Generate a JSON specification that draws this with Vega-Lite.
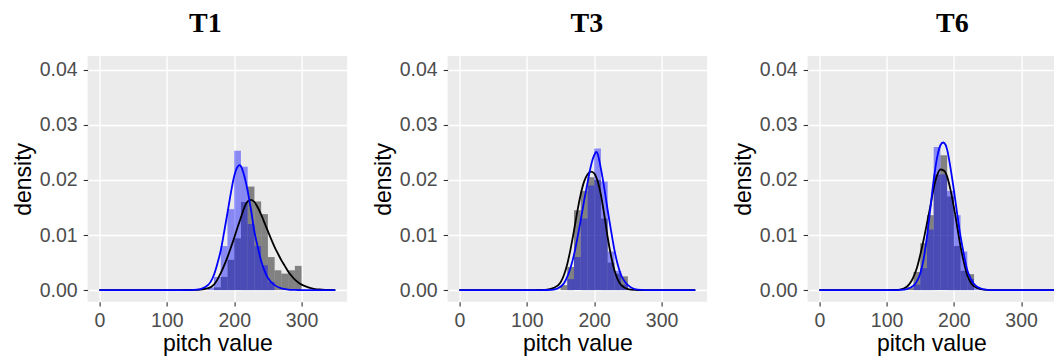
{
  "$schema": "https://vega.github.io/schema/vega-lite/v6.json",
  "padding": {"left": 11.6, "top": 10, "right": 0, "bottom": 0},
  "background": "white",
  "datasets": {
    "hist": [
      {"panel": "T1", "series": "gray", "bin_start": 170, "bin_end": 180, "density": 0.0005},
      {"panel": "T1", "series": "gray", "bin_start": 180, "bin_end": 190, "density": 0.0024},
      {"panel": "T1", "series": "gray", "bin_start": 190, "bin_end": 200, "density": 0.0055},
      {"panel": "T1", "series": "gray", "bin_start": 200, "bin_end": 210, "density": 0.0094},
      {"panel": "T1", "series": "gray", "bin_start": 210, "bin_end": 220, "density": 0.016},
      {"panel": "T1", "series": "gray", "bin_start": 220, "bin_end": 230, "density": 0.0188},
      {"panel": "T1", "series": "gray", "bin_start": 230, "bin_end": 240, "density": 0.0161},
      {"panel": "T1", "series": "gray", "bin_start": 240, "bin_end": 250, "density": 0.0138},
      {"panel": "T1", "series": "gray", "bin_start": 250, "bin_end": 260, "density": 0.006},
      {"panel": "T1", "series": "gray", "bin_start": 260, "bin_end": 270, "density": 0.0036},
      {"panel": "T1", "series": "gray", "bin_start": 270, "bin_end": 280, "density": 0.003},
      {"panel": "T1", "series": "gray", "bin_start": 280, "bin_end": 290, "density": 0.0036},
      {"panel": "T1", "series": "gray", "bin_start": 290, "bin_end": 300, "density": 0.0044},
      {"panel": "T1", "series": "blue", "bin_start": 160, "bin_end": 170, "density": 0.0005},
      {"panel": "T1", "series": "blue", "bin_start": 170, "bin_end": 180, "density": 0.0024},
      {"panel": "T1", "series": "blue", "bin_start": 180, "bin_end": 190, "density": 0.008},
      {"panel": "T1", "series": "blue", "bin_start": 190, "bin_end": 200, "density": 0.0147},
      {"panel": "T1", "series": "blue", "bin_start": 200, "bin_end": 210, "density": 0.0253},
      {"panel": "T1", "series": "blue", "bin_start": 210, "bin_end": 220, "density": 0.0224},
      {"panel": "T1", "series": "blue", "bin_start": 220, "bin_end": 230, "density": 0.012},
      {"panel": "T1", "series": "blue", "bin_start": 230, "bin_end": 240, "density": 0.008},
      {"panel": "T1", "series": "blue", "bin_start": 240, "bin_end": 250, "density": 0.0045},
      {"panel": "T1", "series": "blue", "bin_start": 250, "bin_end": 260, "density": 0.0015},
      {"panel": "T3", "series": "gray", "bin_start": 150, "bin_end": 160, "density": 0.0009},
      {"panel": "T3", "series": "gray", "bin_start": 160, "bin_end": 170, "density": 0.0042},
      {"panel": "T3", "series": "gray", "bin_start": 170, "bin_end": 180, "density": 0.0145},
      {"panel": "T3", "series": "gray", "bin_start": 180, "bin_end": 190, "density": 0.018},
      {"panel": "T3", "series": "gray", "bin_start": 190, "bin_end": 200, "density": 0.0205},
      {"panel": "T3", "series": "gray", "bin_start": 200, "bin_end": 210, "density": 0.02},
      {"panel": "T3", "series": "gray", "bin_start": 210, "bin_end": 220, "density": 0.013},
      {"panel": "T3", "series": "gray", "bin_start": 220, "bin_end": 230, "density": 0.005},
      {"panel": "T3", "series": "gray", "bin_start": 230, "bin_end": 240, "density": 0.003},
      {"panel": "T3", "series": "gray", "bin_start": 240, "bin_end": 250, "density": 0.0025},
      {"panel": "T3", "series": "blue", "bin_start": 160, "bin_end": 170, "density": 0.002},
      {"panel": "T3", "series": "blue", "bin_start": 170, "bin_end": 180, "density": 0.006},
      {"panel": "T3", "series": "blue", "bin_start": 180, "bin_end": 190, "density": 0.013},
      {"panel": "T3", "series": "blue", "bin_start": 190, "bin_end": 200, "density": 0.019},
      {"panel": "T3", "series": "blue", "bin_start": 200, "bin_end": 210, "density": 0.0257},
      {"panel": "T3", "series": "blue", "bin_start": 210, "bin_end": 220, "density": 0.0197},
      {"panel": "T3", "series": "blue", "bin_start": 220, "bin_end": 230, "density": 0.007},
      {"panel": "T3", "series": "blue", "bin_start": 230, "bin_end": 240, "density": 0.0035},
      {"panel": "T3", "series": "blue", "bin_start": 240, "bin_end": 250, "density": 0.001},
      {"panel": "T6", "series": "gray", "bin_start": 130, "bin_end": 140, "density": 0.0005},
      {"panel": "T6", "series": "gray", "bin_start": 140, "bin_end": 150, "density": 0.0033},
      {"panel": "T6", "series": "gray", "bin_start": 150, "bin_end": 160, "density": 0.0085},
      {"panel": "T6", "series": "gray", "bin_start": 160, "bin_end": 170, "density": 0.0136},
      {"panel": "T6", "series": "gray", "bin_start": 170, "bin_end": 180, "density": 0.021},
      {"panel": "T6", "series": "gray", "bin_start": 180, "bin_end": 190, "density": 0.0245},
      {"panel": "T6", "series": "gray", "bin_start": 190, "bin_end": 200, "density": 0.017},
      {"panel": "T6", "series": "gray", "bin_start": 200, "bin_end": 210, "density": 0.008},
      {"panel": "T6", "series": "gray", "bin_start": 210, "bin_end": 220, "density": 0.0035},
      {"panel": "T6", "series": "gray", "bin_start": 220, "bin_end": 230, "density": 0.0029},
      {"panel": "T6", "series": "blue", "bin_start": 140, "bin_end": 150, "density": 0.001},
      {"panel": "T6", "series": "blue", "bin_start": 150, "bin_end": 160, "density": 0.004},
      {"panel": "T6", "series": "blue", "bin_start": 160, "bin_end": 170, "density": 0.011},
      {"panel": "T6", "series": "blue", "bin_start": 170, "bin_end": 180, "density": 0.026},
      {"panel": "T6", "series": "blue", "bin_start": 180, "bin_end": 190, "density": 0.021},
      {"panel": "T6", "series": "blue", "bin_start": 190, "bin_end": 200, "density": 0.018},
      {"panel": "T6", "series": "blue", "bin_start": 200, "bin_end": 210, "density": 0.0136},
      {"panel": "T6", "series": "blue", "bin_start": 210, "bin_end": 220, "density": 0.007},
      {"panel": "T6", "series": "blue", "bin_start": 220, "bin_end": 230, "density": 0.002},
      {"panel": "T6", "series": "blue", "bin_start": 230, "bin_end": 240, "density": 0.0005}
    ],
    "curve": [
      {"panel": "T1", "series": "black", "pitch": 0, "density": 0},
      {"panel": "T1", "series": "black", "pitch": 100, "density": 0},
      {"panel": "T1", "series": "black", "pitch": 130, "density": 0.00002},
      {"panel": "T1", "series": "black", "pitch": 140, "density": 0.00005},
      {"panel": "T1", "series": "black", "pitch": 150, "density": 0.0001},
      {"panel": "T1", "series": "black", "pitch": 160, "density": 0.0003},
      {"panel": "T1", "series": "black", "pitch": 170, "density": 0.001},
      {"panel": "T1", "series": "black", "pitch": 180, "density": 0.0031},
      {"panel": "T1", "series": "black", "pitch": 190, "density": 0.006},
      {"panel": "T1", "series": "black", "pitch": 200, "density": 0.0095},
      {"panel": "T1", "series": "black", "pitch": 205, "density": 0.0114},
      {"panel": "T1", "series": "black", "pitch": 210, "density": 0.0132},
      {"panel": "T1", "series": "black", "pitch": 215, "density": 0.015},
      {"panel": "T1", "series": "black", "pitch": 220, "density": 0.0161},
      {"panel": "T1", "series": "black", "pitch": 225, "density": 0.0164},
      {"panel": "T1", "series": "black", "pitch": 230, "density": 0.016},
      {"panel": "T1", "series": "black", "pitch": 235, "density": 0.015},
      {"panel": "T1", "series": "black", "pitch": 240, "density": 0.0137},
      {"panel": "T1", "series": "black", "pitch": 245, "density": 0.0122},
      {"panel": "T1", "series": "black", "pitch": 250, "density": 0.0107},
      {"panel": "T1", "series": "black", "pitch": 255, "density": 0.0092},
      {"panel": "T1", "series": "black", "pitch": 260, "density": 0.0078},
      {"panel": "T1", "series": "black", "pitch": 265, "density": 0.0066},
      {"panel": "T1", "series": "black", "pitch": 270, "density": 0.0054},
      {"panel": "T1", "series": "black", "pitch": 275, "density": 0.0044},
      {"panel": "T1", "series": "black", "pitch": 280, "density": 0.0034},
      {"panel": "T1", "series": "black", "pitch": 285, "density": 0.0026},
      {"panel": "T1", "series": "black", "pitch": 290, "density": 0.0019},
      {"panel": "T1", "series": "black", "pitch": 295, "density": 0.0014},
      {"panel": "T1", "series": "black", "pitch": 300, "density": 0.001},
      {"panel": "T1", "series": "black", "pitch": 310, "density": 0.0005},
      {"panel": "T1", "series": "black", "pitch": 320, "density": 0.0002},
      {"panel": "T1", "series": "black", "pitch": 330, "density": 0.0001},
      {"panel": "T1", "series": "black", "pitch": 340, "density": 0.00003},
      {"panel": "T1", "series": "black", "pitch": 350, "density": 0},
      {"panel": "T1", "series": "blue", "pitch": 0, "density": 0},
      {"panel": "T1", "series": "blue", "pitch": 120, "density": 0},
      {"panel": "T1", "series": "blue", "pitch": 140, "density": 0.00005},
      {"panel": "T1", "series": "blue", "pitch": 150, "density": 0.0002},
      {"panel": "T1", "series": "blue", "pitch": 160, "density": 0.0008},
      {"panel": "T1", "series": "blue", "pitch": 165, "density": 0.0015},
      {"panel": "T1", "series": "blue", "pitch": 170, "density": 0.0028},
      {"panel": "T1", "series": "blue", "pitch": 175, "density": 0.0048},
      {"panel": "T1", "series": "blue", "pitch": 180, "density": 0.0072},
      {"panel": "T1", "series": "blue", "pitch": 185, "density": 0.0105},
      {"panel": "T1", "series": "blue", "pitch": 190, "density": 0.014},
      {"panel": "T1", "series": "blue", "pitch": 195, "density": 0.0176},
      {"panel": "T1", "series": "blue", "pitch": 200, "density": 0.0207},
      {"panel": "T1", "series": "blue", "pitch": 205, "density": 0.0224},
      {"panel": "T1", "series": "blue", "pitch": 208, "density": 0.0227},
      {"panel": "T1", "series": "blue", "pitch": 210, "density": 0.0225},
      {"panel": "T1", "series": "blue", "pitch": 215, "density": 0.0207},
      {"panel": "T1", "series": "blue", "pitch": 220, "density": 0.018},
      {"panel": "T1", "series": "blue", "pitch": 225, "density": 0.0145},
      {"panel": "T1", "series": "blue", "pitch": 230, "density": 0.0106},
      {"panel": "T1", "series": "blue", "pitch": 235, "density": 0.0078},
      {"panel": "T1", "series": "blue", "pitch": 240, "density": 0.0053},
      {"panel": "T1", "series": "blue", "pitch": 245, "density": 0.0035},
      {"panel": "T1", "series": "blue", "pitch": 250, "density": 0.0022},
      {"panel": "T1", "series": "blue", "pitch": 260, "density": 0.0009},
      {"panel": "T1", "series": "blue", "pitch": 270, "density": 0.0003},
      {"panel": "T1", "series": "blue", "pitch": 280, "density": 0.0001},
      {"panel": "T1", "series": "blue", "pitch": 290, "density": 0.00003},
      {"panel": "T1", "series": "blue", "pitch": 300, "density": 0},
      {"panel": "T1", "series": "blue", "pitch": 350, "density": 0},
      {"panel": "T3", "series": "black", "pitch": 0, "density": 0},
      {"panel": "T3", "series": "black", "pitch": 110, "density": 0},
      {"panel": "T3", "series": "black", "pitch": 120, "density": 0.00003},
      {"panel": "T3", "series": "black", "pitch": 130, "density": 0.0001},
      {"panel": "T3", "series": "black", "pitch": 140, "density": 0.0004},
      {"panel": "T3", "series": "black", "pitch": 150, "density": 0.0014},
      {"panel": "T3", "series": "black", "pitch": 155, "density": 0.0027},
      {"panel": "T3", "series": "black", "pitch": 160, "density": 0.0047},
      {"panel": "T3", "series": "black", "pitch": 165, "density": 0.0075},
      {"panel": "T3", "series": "black", "pitch": 170, "density": 0.0108},
      {"panel": "T3", "series": "black", "pitch": 175, "density": 0.0143},
      {"panel": "T3", "series": "black", "pitch": 180, "density": 0.0174},
      {"panel": "T3", "series": "black", "pitch": 185, "density": 0.0197},
      {"panel": "T3", "series": "black", "pitch": 190, "density": 0.021},
      {"panel": "T3", "series": "black", "pitch": 195, "density": 0.0215},
      {"panel": "T3", "series": "black", "pitch": 200, "density": 0.0212},
      {"panel": "T3", "series": "black", "pitch": 205, "density": 0.0198},
      {"panel": "T3", "series": "black", "pitch": 210, "density": 0.0173},
      {"panel": "T3", "series": "black", "pitch": 215, "density": 0.0136},
      {"panel": "T3", "series": "black", "pitch": 220, "density": 0.0096},
      {"panel": "T3", "series": "black", "pitch": 225, "density": 0.0062},
      {"panel": "T3", "series": "black", "pitch": 230, "density": 0.0036},
      {"panel": "T3", "series": "black", "pitch": 235, "density": 0.0019},
      {"panel": "T3", "series": "black", "pitch": 240, "density": 0.0009},
      {"panel": "T3", "series": "black", "pitch": 250, "density": 0.0002},
      {"panel": "T3", "series": "black", "pitch": 260, "density": 0.00004},
      {"panel": "T3", "series": "black", "pitch": 270, "density": 0},
      {"panel": "T3", "series": "black", "pitch": 350, "density": 0},
      {"panel": "T3", "series": "blue", "pitch": 0, "density": 0},
      {"panel": "T3", "series": "blue", "pitch": 120, "density": 0},
      {"panel": "T3", "series": "blue", "pitch": 130, "density": 0.00002},
      {"panel": "T3", "series": "blue", "pitch": 140, "density": 0.0001},
      {"panel": "T3", "series": "blue", "pitch": 150, "density": 0.0006},
      {"panel": "T3", "series": "blue", "pitch": 155, "density": 0.0012},
      {"panel": "T3", "series": "blue", "pitch": 160, "density": 0.0024},
      {"panel": "T3", "series": "blue", "pitch": 165, "density": 0.0041},
      {"panel": "T3", "series": "blue", "pitch": 170, "density": 0.0064},
      {"panel": "T3", "series": "blue", "pitch": 175, "density": 0.0094},
      {"panel": "T3", "series": "blue", "pitch": 180, "density": 0.0127},
      {"panel": "T3", "series": "blue", "pitch": 185, "density": 0.0162},
      {"panel": "T3", "series": "blue", "pitch": 190, "density": 0.0194},
      {"panel": "T3", "series": "blue", "pitch": 195, "density": 0.0225},
      {"panel": "T3", "series": "blue", "pitch": 200, "density": 0.0245},
      {"panel": "T3", "series": "blue", "pitch": 203, "density": 0.0251},
      {"panel": "T3", "series": "blue", "pitch": 205, "density": 0.0248},
      {"panel": "T3", "series": "blue", "pitch": 210, "density": 0.022},
      {"panel": "T3", "series": "blue", "pitch": 215, "density": 0.0185},
      {"panel": "T3", "series": "blue", "pitch": 220, "density": 0.0145},
      {"panel": "T3", "series": "blue", "pitch": 225, "density": 0.0108},
      {"panel": "T3", "series": "blue", "pitch": 230, "density": 0.0073},
      {"panel": "T3", "series": "blue", "pitch": 235, "density": 0.0046},
      {"panel": "T3", "series": "blue", "pitch": 240, "density": 0.0027},
      {"panel": "T3", "series": "blue", "pitch": 245, "density": 0.0016},
      {"panel": "T3", "series": "blue", "pitch": 250, "density": 0.0009},
      {"panel": "T3", "series": "blue", "pitch": 260, "density": 0.0002},
      {"panel": "T3", "series": "blue", "pitch": 270, "density": 0.00004},
      {"panel": "T3", "series": "blue", "pitch": 280, "density": 0},
      {"panel": "T3", "series": "blue", "pitch": 350, "density": 0},
      {"panel": "T6", "series": "black", "pitch": 0, "density": 0},
      {"panel": "T6", "series": "black", "pitch": 100, "density": 0},
      {"panel": "T6", "series": "black", "pitch": 110, "density": 0.00003},
      {"panel": "T6", "series": "black", "pitch": 120, "density": 0.0001},
      {"panel": "T6", "series": "black", "pitch": 130, "density": 0.0006},
      {"panel": "T6", "series": "black", "pitch": 140, "density": 0.0024},
      {"panel": "T6", "series": "black", "pitch": 145, "density": 0.004},
      {"panel": "T6", "series": "black", "pitch": 150, "density": 0.0064},
      {"panel": "T6", "series": "black", "pitch": 155, "density": 0.0091},
      {"panel": "T6", "series": "black", "pitch": 160, "density": 0.0121},
      {"panel": "T6", "series": "black", "pitch": 165, "density": 0.0152},
      {"panel": "T6", "series": "black", "pitch": 170, "density": 0.0185},
      {"panel": "T6", "series": "black", "pitch": 175, "density": 0.0208},
      {"panel": "T6", "series": "black", "pitch": 180, "density": 0.0219},
      {"panel": "T6", "series": "black", "pitch": 185, "density": 0.0217},
      {"panel": "T6", "series": "black", "pitch": 190, "density": 0.0206},
      {"panel": "T6", "series": "black", "pitch": 195, "density": 0.0182},
      {"panel": "T6", "series": "black", "pitch": 200, "density": 0.0151},
      {"panel": "T6", "series": "black", "pitch": 205, "density": 0.0115},
      {"panel": "T6", "series": "black", "pitch": 210, "density": 0.0079},
      {"panel": "T6", "series": "black", "pitch": 215, "density": 0.005},
      {"panel": "T6", "series": "black", "pitch": 220, "density": 0.0027},
      {"panel": "T6", "series": "black", "pitch": 225, "density": 0.0014},
      {"panel": "T6", "series": "black", "pitch": 230, "density": 0.0007},
      {"panel": "T6", "series": "black", "pitch": 240, "density": 0.0002},
      {"panel": "T6", "series": "black", "pitch": 250, "density": 0.00004},
      {"panel": "T6", "series": "black", "pitch": 260, "density": 0},
      {"panel": "T6", "series": "black", "pitch": 350, "density": 0},
      {"panel": "T6", "series": "blue", "pitch": 0, "density": 0},
      {"panel": "T6", "series": "blue", "pitch": 110, "density": 0},
      {"panel": "T6", "series": "blue", "pitch": 120, "density": 0.00005},
      {"panel": "T6", "series": "blue", "pitch": 130, "density": 0.0002},
      {"panel": "T6", "series": "blue", "pitch": 140, "density": 0.0008},
      {"panel": "T6", "series": "blue", "pitch": 145, "density": 0.0016},
      {"panel": "T6", "series": "blue", "pitch": 150, "density": 0.003},
      {"panel": "T6", "series": "blue", "pitch": 155, "density": 0.0056},
      {"panel": "T6", "series": "blue", "pitch": 160, "density": 0.0097},
      {"panel": "T6", "series": "blue", "pitch": 165, "density": 0.0148},
      {"panel": "T6", "series": "blue", "pitch": 170, "density": 0.02},
      {"panel": "T6", "series": "blue", "pitch": 175, "density": 0.024},
      {"panel": "T6", "series": "blue", "pitch": 180, "density": 0.0263},
      {"panel": "T6", "series": "blue", "pitch": 184, "density": 0.0268},
      {"panel": "T6", "series": "blue", "pitch": 188, "density": 0.0263},
      {"panel": "T6", "series": "blue", "pitch": 190, "density": 0.0255},
      {"panel": "T6", "series": "blue", "pitch": 195, "density": 0.0222},
      {"panel": "T6", "series": "blue", "pitch": 200, "density": 0.0182},
      {"panel": "T6", "series": "blue", "pitch": 205, "density": 0.0138},
      {"panel": "T6", "series": "blue", "pitch": 210, "density": 0.0097},
      {"panel": "T6", "series": "blue", "pitch": 215, "density": 0.0064},
      {"panel": "T6", "series": "blue", "pitch": 220, "density": 0.0036},
      {"panel": "T6", "series": "blue", "pitch": 225, "density": 0.0021},
      {"panel": "T6", "series": "blue", "pitch": 230, "density": 0.0011},
      {"panel": "T6", "series": "blue", "pitch": 240, "density": 0.0003},
      {"panel": "T6", "series": "blue", "pitch": 250, "density": 0.00005},
      {"panel": "T6", "series": "blue", "pitch": 260, "density": 0},
      {"panel": "T6", "series": "blue", "pitch": 350, "density": 0}
    ]
  },
  "spacing": 100,
  "bounds": "flush",
  "hconcat": [
    {
      "width": 259.5,
      "height": 245.7,
      "title": {"text": "T1", "dx": -12},
      "layer": [
        {
          "data": {"name": "hist"},
          "transform": [{"filter": "datum.panel === 'T1' && datum.series === 'gray'"}],
          "mark": {"type": "rect", "color": "black", "opacity": 0.45},
          "encoding": {
            "x": {"field": "bin_start", "type": "quantitative", "title": "pitch value", "scale": {"domain": [-17.5, 367.5], "nice": false, "zero": false},
              "axis": {"values": [0, 50, 100, 150, 200, 250, 300, 350], "labelExpr": "datum.value % 100 === 0 ? datum.label : ''", "gridWidth": {"condition": {"test": "datum.value % 100 === 0", "value": 1.4}, "value": 0.7}, "tickOpacity": {"condition": {"test": "datum.value % 100 === 0", "value": 1}, "value": 0}, "labelPadding": 5.5, "titleY": 48.5, "titleBaseline": "alphabetic"}},
            "x2": {"field": "bin_end"},
            "y": {"field": "density", "type": "quantitative", "title": "density", "scale": {"domain": [-0.0021, 0.0425], "nice": false, "zero": false},
              "axis": {"values": [0, 0.005, 0.01, 0.015, 0.02, 0.025, 0.03, 0.035, 0.04], "format": ".2f", "labelExpr": "round(datum.value*1000) % 10 === 0 ? datum.label : ''", "gridWidth": {"condition": {"test": "round(datum.value*1000) % 10 === 0", "value": 1.4}, "value": 0.7}, "tickOpacity": {"condition": {"test": "round(datum.value*1000) % 10 === 0", "value": 1}, "value": 0}, "labelPadding": 6, "titleX": -57.2, "titleBaseline": "alphabetic"}},
            "y2": {"datum": 0}
          }
        },
        {
          "data": {"name": "hist"},
          "transform": [{"filter": "datum.panel === 'T1' && datum.series === 'blue'"}],
          "mark": {"type": "rect", "color": "blue", "opacity": 0.42},
          "encoding": {
            "x": {"field": "bin_start", "type": "quantitative", "title": "pitch value", "scale": {"domain": [-17.5, 367.5], "nice": false, "zero": false}},
            "x2": {"field": "bin_end"},
            "y": {"field": "density", "type": "quantitative", "title": "density", "scale": {"domain": [-0.0021, 0.0425], "nice": false, "zero": false}},
            "y2": {"datum": 0}
          }
        },
        {
          "data": {"name": "curve"},
          "transform": [{"filter": "datum.panel === 'T1' && datum.series === 'black'"}],
          "mark": {"type": "line", "color": "black", "strokeWidth": 1.8, "interpolate": "monotone"},
          "encoding": {
            "x": {"field": "pitch", "type": "quantitative", "title": "pitch value", "scale": {"domain": [-17.5, 367.5], "nice": false, "zero": false}},
            "y": {"field": "density", "type": "quantitative", "title": "density", "scale": {"domain": [-0.0021, 0.0425], "nice": false, "zero": false}}
          }
        },
        {
          "data": {"name": "curve"},
          "transform": [{"filter": "datum.panel === 'T1' && datum.series === 'blue'"}],
          "mark": {"type": "line", "color": "#0000FF", "strokeWidth": 1.8, "interpolate": "monotone"},
          "encoding": {
            "x": {"field": "pitch", "type": "quantitative", "title": "pitch value", "scale": {"domain": [-17.5, 367.5], "nice": false, "zero": false}},
            "y": {"field": "density", "type": "quantitative", "title": "density", "scale": {"domain": [-0.0021, 0.0425], "nice": false, "zero": false}}
          }
        }
      ]
    },
    {
      "width": 259.5,
      "height": 245.7,
      "title": {"text": "T3", "dx": 9.5},
      "layer": [
        {
          "data": {"name": "hist"},
          "transform": [{"filter": "datum.panel === 'T3' && datum.series === 'gray'"}],
          "mark": {"type": "rect", "color": "black", "opacity": 0.45},
          "encoding": {
            "x": {"field": "bin_start", "type": "quantitative", "title": "pitch value", "scale": {"domain": [-17.5, 367.5], "nice": false, "zero": false},
              "axis": {"values": [0, 50, 100, 150, 200, 250, 300, 350], "labelExpr": "datum.value % 100 === 0 ? datum.label : ''", "gridWidth": {"condition": {"test": "datum.value % 100 === 0", "value": 1.4}, "value": 0.7}, "tickOpacity": {"condition": {"test": "datum.value % 100 === 0", "value": 1}, "value": 0}, "labelPadding": 5.5, "titleY": 48.5, "titleBaseline": "alphabetic"}},
            "x2": {"field": "bin_end"},
            "y": {"field": "density", "type": "quantitative", "title": "density", "scale": {"domain": [-0.0021, 0.0425], "nice": false, "zero": false},
              "axis": {"values": [0, 0.005, 0.01, 0.015, 0.02, 0.025, 0.03, 0.035, 0.04], "format": ".2f", "labelExpr": "round(datum.value*1000) % 10 === 0 ? datum.label : ''", "gridWidth": {"condition": {"test": "round(datum.value*1000) % 10 === 0", "value": 1.4}, "value": 0.7}, "tickOpacity": {"condition": {"test": "round(datum.value*1000) % 10 === 0", "value": 1}, "value": 0}, "labelPadding": 6, "titleX": -57.2, "titleBaseline": "alphabetic"}},
            "y2": {"datum": 0}
          }
        },
        {
          "data": {"name": "hist"},
          "transform": [{"filter": "datum.panel === 'T3' && datum.series === 'blue'"}],
          "mark": {"type": "rect", "color": "blue", "opacity": 0.42},
          "encoding": {
            "x": {"field": "bin_start", "type": "quantitative", "title": "pitch value", "scale": {"domain": [-17.5, 367.5], "nice": false, "zero": false}},
            "x2": {"field": "bin_end"},
            "y": {"field": "density", "type": "quantitative", "title": "density", "scale": {"domain": [-0.0021, 0.0425], "nice": false, "zero": false}},
            "y2": {"datum": 0}
          }
        },
        {
          "data": {"name": "curve"},
          "transform": [{"filter": "datum.panel === 'T3' && datum.series === 'black'"}],
          "mark": {"type": "line", "color": "black", "strokeWidth": 1.8, "interpolate": "monotone"},
          "encoding": {
            "x": {"field": "pitch", "type": "quantitative", "title": "pitch value", "scale": {"domain": [-17.5, 367.5], "nice": false, "zero": false}},
            "y": {"field": "density", "type": "quantitative", "title": "density", "scale": {"domain": [-0.0021, 0.0425], "nice": false, "zero": false}}
          }
        },
        {
          "data": {"name": "curve"},
          "transform": [{"filter": "datum.panel === 'T3' && datum.series === 'blue'"}],
          "mark": {"type": "line", "color": "#0000FF", "strokeWidth": 1.8, "interpolate": "monotone"},
          "encoding": {
            "x": {"field": "pitch", "type": "quantitative", "title": "pitch value", "scale": {"domain": [-17.5, 367.5], "nice": false, "zero": false}},
            "y": {"field": "density", "type": "quantitative", "title": "density", "scale": {"domain": [-0.0021, 0.0425], "nice": false, "zero": false}}
          }
        }
      ]
    },
    {
      "width": 247.5,
      "height": 245.7,
      "title": {"text": "T6", "dx": 21},
      "layer": [
        {
          "data": {"name": "hist"},
          "transform": [{"filter": "datum.panel === 'T6' && datum.series === 'gray'"}],
          "mark": {"type": "rect", "color": "black", "opacity": 0.45},
          "encoding": {
            "x": {"field": "bin_start", "type": "quantitative", "title": "pitch value", "scale": {"domain": [-17.5, 350.5], "nice": false, "zero": false},
              "axis": {"values": [0, 50, 100, 150, 200, 250, 300, 350], "labelExpr": "datum.value % 100 === 0 ? datum.label : ''", "gridWidth": {"condition": {"test": "datum.value % 100 === 0", "value": 1.4}, "value": 0.7}, "tickOpacity": {"condition": {"test": "datum.value % 100 === 0", "value": 1}, "value": 0}, "labelPadding": 5.5, "titleY": 48.5, "titleBaseline": "alphabetic"}},
            "x2": {"field": "bin_end"},
            "y": {"field": "density", "type": "quantitative", "title": "density", "scale": {"domain": [-0.0021, 0.0425], "nice": false, "zero": false},
              "axis": {"values": [0, 0.005, 0.01, 0.015, 0.02, 0.025, 0.03, 0.035, 0.04], "format": ".2f", "labelExpr": "round(datum.value*1000) % 10 === 0 ? datum.label : ''", "gridWidth": {"condition": {"test": "round(datum.value*1000) % 10 === 0", "value": 1.4}, "value": 0.7}, "tickOpacity": {"condition": {"test": "round(datum.value*1000) % 10 === 0", "value": 1}, "value": 0}, "labelPadding": 6, "titleX": -57.2, "titleBaseline": "alphabetic"}},
            "y2": {"datum": 0}
          }
        },
        {
          "data": {"name": "hist"},
          "transform": [{"filter": "datum.panel === 'T6' && datum.series === 'blue'"}],
          "mark": {"type": "rect", "color": "blue", "opacity": 0.42},
          "encoding": {
            "x": {"field": "bin_start", "type": "quantitative", "title": "pitch value", "scale": {"domain": [-17.5, 350.5], "nice": false, "zero": false}},
            "x2": {"field": "bin_end"},
            "y": {"field": "density", "type": "quantitative", "title": "density", "scale": {"domain": [-0.0021, 0.0425], "nice": false, "zero": false}},
            "y2": {"datum": 0}
          }
        },
        {
          "data": {"name": "curve"},
          "transform": [{"filter": "datum.panel === 'T6' && datum.series === 'black'"}],
          "mark": {"type": "line", "color": "black", "strokeWidth": 1.8, "interpolate": "monotone"},
          "encoding": {
            "x": {"field": "pitch", "type": "quantitative", "title": "pitch value", "scale": {"domain": [-17.5, 350.5], "nice": false, "zero": false}},
            "y": {"field": "density", "type": "quantitative", "title": "density", "scale": {"domain": [-0.0021, 0.0425], "nice": false, "zero": false}}
          }
        },
        {
          "data": {"name": "curve"},
          "transform": [{"filter": "datum.panel === 'T6' && datum.series === 'blue'"}],
          "mark": {"type": "line", "color": "#0000FF", "strokeWidth": 1.8, "interpolate": "monotone"},
          "encoding": {
            "x": {"field": "pitch", "type": "quantitative", "title": "pitch value", "scale": {"domain": [-17.5, 350.5], "nice": false, "zero": false}},
            "y": {"field": "density", "type": "quantitative", "title": "density", "scale": {"domain": [-0.0021, 0.0425], "nice": false, "zero": false}}
          }
        }
      ]
    }
  ],
  "config": {
    "view": {"fill": "#EBEBEB", "stroke": null},
    "axis": {
      "domain": false,
      "grid": true,
      "gridColor": "#FFFFFF",
      "tickColor": "#333333",
      "tickWidth": 1.1,
      "tickSize": 4.4,
      "labelColor": "#4D4D4D",
      "labelFont": "Liberation Sans",
      "labelFontSize": 19.5,
      "labelOverlap": false,
      "labelFlush": false,
      "titleFont": "Liberation Sans",
      "titleFontSize": 23,
      "titleFontWeight": "normal",
      "titleColor": "#000000"
    },
    "title": {
      "font": "Liberation Serif",
      "fontSize": 28,
      "fontWeight": "bold",
      "color": "#000000",
      "anchor": "middle",
      "frame": "group",
      "baseline": "alphabetic",
      "offset": 18
    }
  }
}
